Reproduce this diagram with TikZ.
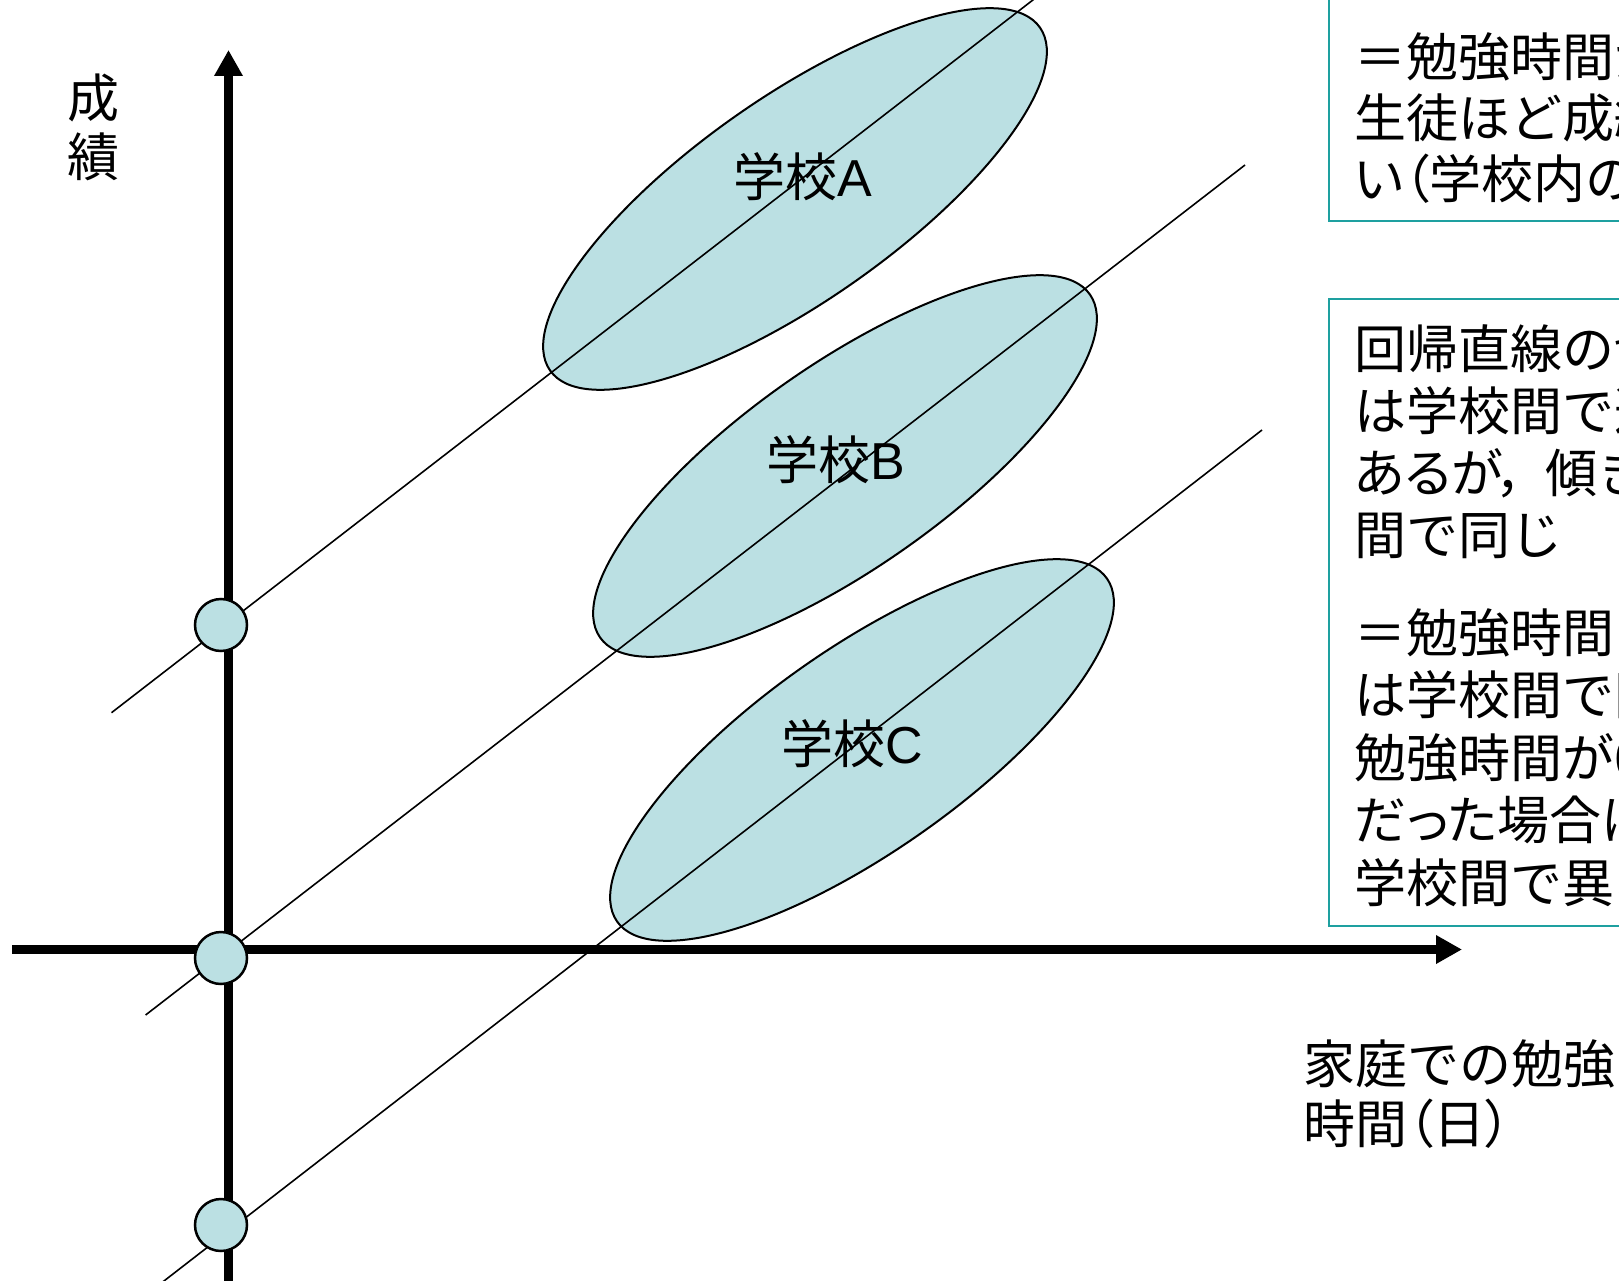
\documentclass[tikz,border=0pt]{standalone}
\usepackage{fontspec}
\newfontfamily\jp{Noto Sans CJK JP}
\newfontfamily\jpp[RawFeature=+palt]{Noto Sans CJK JP}
\newfontfamily\lat{Liberation Sans}
\usetikzlibrary{arrows.meta,shapes.geometric}
\definecolor{ellfill}{RGB}{187,224,227}
\definecolor{boxteal}{RGB}{30,160,160}
\begin{document}
\begin{tikzpicture}[x=1pt,y=-1pt,
  blob/.style={ellipse, draw=black, line width=2pt, fill=ellfill, minimum width=598pt, minimum height=204pt, inner sep=0pt, rotate=35},
  reg/.style={line width=1.6pt, draw=black},
  axis/.style={line width=8.5pt, draw=black, -{Triangle[length=26pt,width=27pt]}},
  dot/.style={circle, draw=black, line width=2.5pt, fill=ellfill, minimum size=52pt, inner sep=0pt},
  lbl/.style={font=\fontsize{52}{62}\selectfont\jp, inner sep=0pt},
  note/.style={draw=boxteal, line width=2.5pt, fill=white},
  txt/.style={font=\fontsize{52}{62}\selectfont\jp, align=left, inner sep=0pt, anchor=base west},
]
\path[use as bounding box] (0,0) rectangle (1619,1281);
\begin{scope}
\clip (0,0) rectangle (1619,1281);
% text boxes
\draw[note] (1329,-10) rectangle (1660,221);
\draw[note] (1329,299) rectangle (1660,926);
% (anchor = baseline of the last line)
\node[txt, font=\fontsize{52}{61}\selectfont\jp] (t1) at (1354,199) {＝勉強時間が長い\\生徒ほど成績が高\\{\jpp い（}学校内の関係{\jpp ）}};
\node[txt] (t2) at (1354,554) {回帰直線の切片\\は学校間で違いが\\{\jpp あるが，}\hspace{20pt}傾きは学校\\間で同じ};
\node[txt, font=\fontsize{52}{62.5}\selectfont\jp] (t3) at (1354,902) {＝勉強時間と成績\\は学校間で同じだが\\勉強時間が0\\{\jpp だった}場合は\\学校間で異なる};
% ellipses
\node[blob] (ellA) at (795,199) {};
\node[blob] (ellB) at (845,466) {};
\node[blob] (ellC) at (862,750) {};
% regression lines
\coordinate (a1) at (111.5,712.7); \coordinate (a2) at (1210,-137);
\coordinate (b1) at (145.6,1015);  \coordinate (b2) at (1245,165);
\coordinate (c1) at (150,1291.8);  \coordinate (c2) at (1262,430);
\draw[reg] (a1) -- (a2);
\draw[reg] (b1) -- (b2);
\draw[reg] (c1) -- (c2);
% axes
\coordinate (yb) at (228.5,1300); \coordinate (yt) at (228.5,50);
\coordinate (xl) at (12,949.5);   \coordinate (xr) at (1462,949.5);
\draw[axis] (yb) -- (yt);
\draw[axis] (xl) -- (xr);
% intercept markers
\node[dot] (iA) at (221,625) {};
\node[dot] (iB) at (221,958) {};
\node[dot] (iC) at (221,1225) {};
% labels
\node[lbl] (labA) at (803,177) {学校{\lat A}};
\node[lbl] (labB) at (836,460) {学校{\lat B}};
\node[lbl] (labC) at (852,744) {学校{\lat C}};
\node[lbl, font=\fontsize{52}{59}\selectfont\jp, align=center, anchor=base] (ylab) at (93,177) {成\\績};
\node[txt, font=\fontsize{52}{60}\selectfont\jp] (xlab) at (1303,1143) {家庭での勉強\\時間{\jpp （}日{\jpp ）}};
\end{scope}
\end{tikzpicture}
\end{document}
